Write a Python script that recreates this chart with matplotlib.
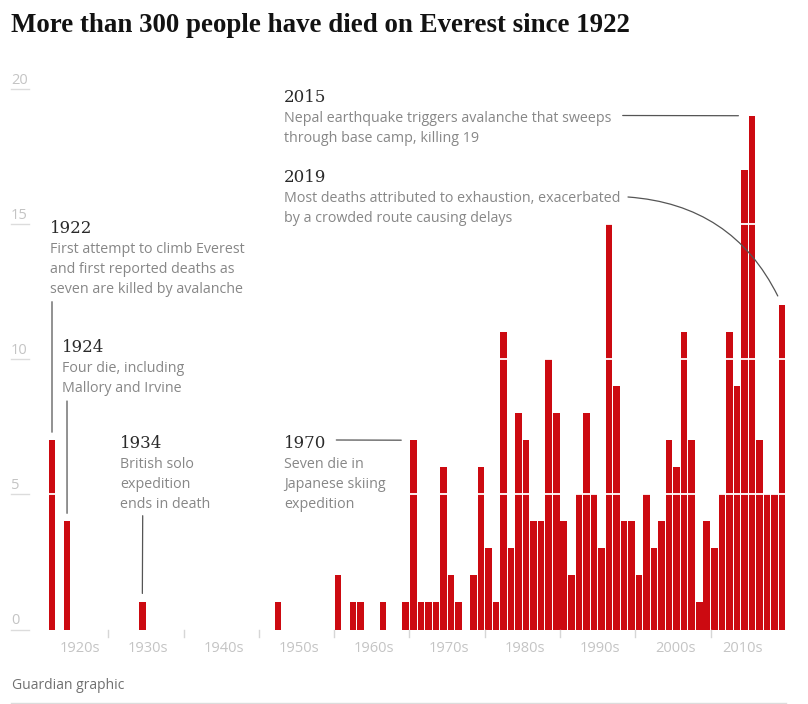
import matplotlib.pyplot as plt

W, H = 808, 704

# deaths on Everest per year (years with no deaths are left out)
death_years = [1922, 1924, 1934, 1952, 1960, 1962, 1963, 1966, 1969,
               1970, 1971, 1972, 1973, 1974, 1975, 1976, 1978, 1979,
               1980, 1981, 1982, 1983, 1984, 1985, 1986, 1987, 1988, 1989,
               1990, 1991, 1992, 1993, 1994, 1995, 1996, 1997, 1998, 1999,
               2000, 2001, 2002, 2003, 2004, 2005, 2006, 2007, 2008, 2009,
               2010, 2011, 2012, 2013, 2014, 2015, 2016, 2017, 2018, 2019]
death_counts = [7, 4, 1, 1, 2, 1, 1, 1, 1,
                7, 1, 1, 1, 6, 2, 1, 2, 6,
                3, 1, 11, 3, 8, 7, 4, 4, 10, 8,
                4, 2, 5, 8, 5, 3, 15, 9, 4, 4,
                2, 5, 3, 4, 7, 6, 11, 7, 1, 4,
                3, 5, 11, 9, 17, 19, 7, 5, 5, 12]

y_ticks = [0, 5, 10, 15, 20]
decades = [1920, 1930, 1940, 1950, 1960, 1970, 1980, 1990, 2000, 2010]
decade_labels = ['1920s', '1930s', '1940s', '1950s', '1960s',
                 '1970s', '1980s', '1990s', '2000s', '2010s']

title = 'More than 300 people have died on Everest since 1922'
source = 'Guardian graphic'

RED = '#cc0a11'
GREY_TXT = '#878787'
LIGHT = '#c4c4c4'
SANS = 'Open Sans'

fig = plt.figure(figsize=(W / 100, H / 100), dpi=100)
fig.patch.set_facecolor('white')

# axes placed so that 1922 sits at x=52px and 0 at y=629.5px
px_year = 7.526
px_unit = 27.04
ax = fig.add_axes([8 / W, 74.5 / H, 782 / W, 20.5 * px_unit / H])
ax.set_xlim(1922 - 44 / px_year, 1922 + 738 / px_year)
ax.set_ylim(0, 20.5)
ax.axis('off')

ax.bar(death_years, death_counts, width=0.87, color=RED, linewidth=0, zorder=2)

# white grid lines cutting through the bars
for v in y_ticks[1:-1]:
    ax.axhline(v, color='white', lw=1.3, zorder=3)

# y labels with short underline at the left
for v in y_ticks:
    yb = v * px_unit + 74.5
    fig.text(11 / W, (yb + 5) / H, str(v), fontsize=10.5, color=LIGHT,
             family=SANS, va='baseline', ha='left')
    fig.add_artist(plt.Line2D([11 / W, 29 / W], [yb / H, yb / H],
                              color='#dcdcdc', lw=1))

# decade ticks and labels
for i, d in enumerate(decades):
    if i > 0:
        ax.plot([d - 0.5, d - 0.5], [0, -7 / px_unit], color='#d6d6d6',
                lw=1, clip_on=False)
    xpos = d + 4.8
    if i == 0:
        xpos += 0.9
    if i == len(decades) - 1:
        xpos -= 1.05
    ax.text(xpos, -18.5 / px_unit, decade_labels[i], fontsize=10.5,
            color=LIGHT, family=SANS, ha='center', va='center', clip_on=False)

# title, source, bottom rule
fig.text(11 / W, 1 - 32.5 / H, title, fontsize=19.4, weight='bold',
         family='Liberation Serif', color='#121212', va='baseline')
fig.text(12 / W, 1 - 689 / H, source, fontsize=10, color='#707070',
         family=SANS, va='baseline')
fig.add_artist(plt.Line2D([11 / W, 786 / W], [1 - 703 / H, 1 - 703 / H],
                          color='#dcdcdc', lw=1))


def note(x, ybase, year, lines):
    fig.text(x / W, 1 - ybase / H, year, fontsize=12, family='DejaVu Serif',
             color='#2a2a2a', va='baseline')
    for k, line in enumerate(lines):
        fig.text(x / W, 1 - (ybase + 20.5 + 20 * k) / H, line, fontsize=10.3,
                 family=SANS, color=GREY_TXT, va='baseline')


def leader(year, value, x0, y0, gap, rad=0.0):
    ax.annotate('', xy=(year, value), xycoords='data',
                xytext=(x0, H - y0), textcoords='figure pixels',
                arrowprops=dict(arrowstyle='-', color='#555555', lw=0.9,
                                shrinkA=0, shrinkB=gap * 0.72,
                                connectionstyle='arc3,rad=%s' % rad),
                annotation_clip=False)


note(50, 232.7, '1922', ['First attempt to climb Everest',
                         'and first reported deaths as',
                         'seven are killed by avalanche'])
note(62, 351.7, '1924', ['Four die, including', 'Mallory and Irvine'])
note(120, 447.5, '1934', ['British solo', 'expedition', 'ends in death'])
note(284, 447.5, '1970', ['Seven die in', 'Japanese skiing', 'expedition'])
note(284, 101.7, '2015', ['Nepal earthquake triggers avalanche that sweeps',
                          'through base camp, killing 19'])
note(284, 181.7, '2019', ['Most deaths attributed to exhaustion, exacerbated',
                          'by a crowded route causing delays'])

leader(1922, 7, 52, 301.7, 8)
leader(1924, 4, 67, 401, 8)
leader(1934, 1, 142.7, 515.7, 9)
leader(1970, 7, 336.3, 440, 12)
leader(2015, 19, 622.7, 115.5, 13.5)
leader(2019, 12, 628, 197, 10, rad=-0.3)

fig.savefig('out.png', dpi=100)
